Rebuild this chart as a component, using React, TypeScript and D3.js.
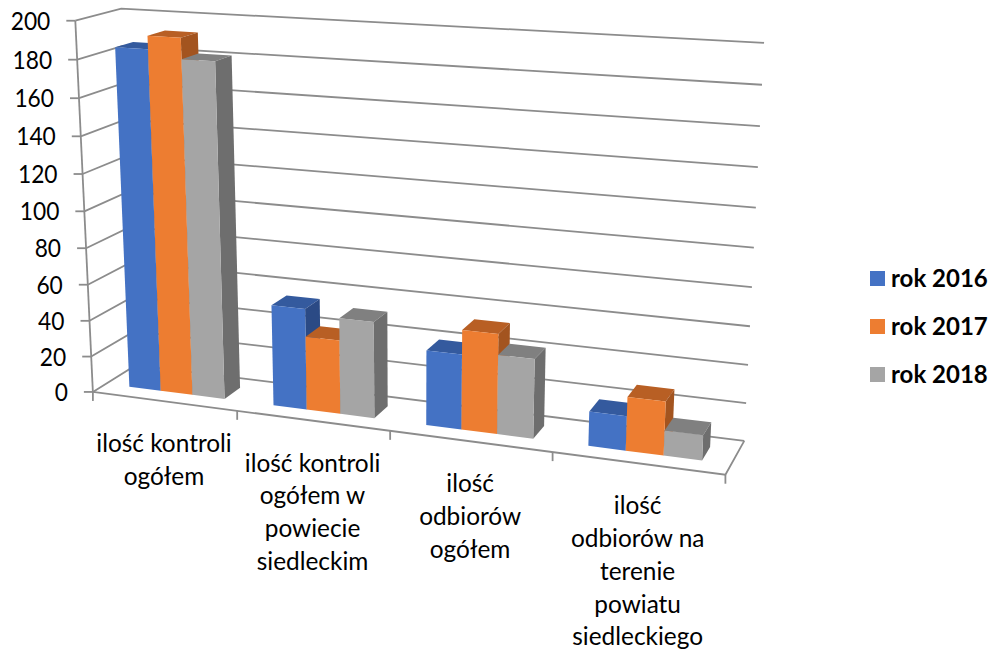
import React from 'react';
import * as d3 from 'd3';

const categories = ['kontrole', 'kontrole powiat', 'odbiory', 'odbiory powiat'];
const categoryLines = [
  ['ilość kontroli', 'ogółem'],
  ['ilość kontroli', 'ogółem w', 'powiecie', 'siedleckim'],
  ['ilość', 'odbiorów', 'ogółem'],
  ['ilość', 'odbiorów na', 'terenie', 'powiatu', 'siedleckiego'],
];
const seriesNames = ['rok 2016', 'rok 2017', 'rok 2018'];
const values2016 = [185, 55, 40, 18];
const values2017 = [192, 40, 53, 28];
const values2018 = [181, 52, 42, 13];
const seriesValues = [values2016, values2017, values2018];
const valueTicks = [0, 20, 40, 60, 80, 100, 120, 140, 160, 180, 200];

const frontColors = ['#4472C4', '#ED7D31', '#A5A5A5'];
const topColors = ['#345A9E', '#B85F24', '#808080'];
const sideColors = ['#2B4A85', '#A3541F', '#6E6E6E'];
const gridColor = '#8C8C8C';
const font = 'Lato, sans-serif';

// where the chart box sits on screen: [across, up, depth, x, y], used to fit the camera
const anchors = [
  [0, 0, 0, 93, 392],
  [0, 0.1, 0, 91, 356],
  [0, 0.2, 0, 90, 321],
  [0, 0.3, 0, 88, 284],
  [0, 0.4, 0, 86, 248],
  [0, 0.5, 0, 84, 211],
  [0, 0.6, 0, 83, 174],
  [0, 0.7, 0, 81, 136],
  [0, 0.8, 0, 79, 98],
  [0, 0.9, 0, 77, 60],
  [0, 1, 0, 75, 21],
  [0, 1, 1, 121, 9],
  [0.25, 0, 0, 237, 412],
  [0.5, 0, 0, 390, 431],
  [0.75, 0, 0, 553, 453],
  [1, 0, 0, 725, 474],
  [1, 1, 1, 764, 43],
  [1, 0.9, 1, 762, 85],
  [1, 0.8, 1, 760, 126],
  [1, 0.7, 1, 758, 167],
  [1, 0.6, 1, 756, 208],
  [1, 0.5, 1, 754, 247],
  [1, 0.4, 1, 752, 287],
  [1, 0.3, 1, 750, 326],
  [1, 0.2, 1, 748, 365],
  [1, 0.1, 1, 746, 403],
  [1, 0, 1, 744, 441],
];

// least squares fit of a 3x4 projection matrix (last entry 1)
function fitProjection(pts: number[][]) {
  const n = 11;
  const A = d3.range(n).map(() => new Array(n + 1).fill(0));
  const add = (row: number[], target: number) => {
    for (let i = 0; i < n; i++) {
      for (let j = 0; j < n; j++) A[i][j] += row[i] * row[j];
      A[i][n] += row[i] * target;
    }
  };
  pts.forEach(([u, v, d, px, py]) => {
    const x = px / 1000;
    const y = py / 1000;
    add([u, v, d, 1, 0, 0, 0, 0, -x * u, -x * v, -x * d], x);
    add([0, 0, 0, 0, u, v, d, 1, -y * u, -y * v, -y * d], y);
  });
  for (let c = 0; c < n; c++) {
    let best = c;
    for (let r = c + 1; r < n; r++) if (Math.abs(A[r][c]) > Math.abs(A[best][c])) best = r;
    [A[c], A[best]] = [A[best], A[c]];
    for (let r = 0; r < n; r++) {
      if (r === c) continue;
      const f = A[r][c] / A[c][c];
      for (let k = c; k <= n; k++) A[r][k] -= f * A[c][k];
    }
  }
  return A.map((row, i) => row[n] / row[i]);
}

const h = fitProjection(anchors);
const project = (u: number, v: number, d: number): [number, number] => {
  const w = h[8] * u + h[9] * v + h[10] * d + 1;
  return [
    (1000 * (h[0] * u + h[1] * v + h[2] * d + h[3])) / w,
    (1000 * (h[4] * u + h[5] * v + h[6] * d + h[7])) / w,
  ];
};

const xScale = d3.scaleBand().domain(categories).range([0, 1]);
const seriesScale = d3
  .scaleBand()
  .domain(seriesNames)
  .range([0, xScale.bandwidth()])
  .paddingInner(0)
  .paddingOuter(0.75);
const yScale = d3.scaleLinear().domain([0, 200]).range([0, 1]);
const depthScale = d3.scaleLinear().domain([0, 1]).range([0.3, 0.7]);

const line = d3.line();
const edge = (pts: [number, number, number][]) => line(pts.map(p => project(p[0], p[1], p[2]))) as string;
const face = (pts: [number, number, number][]) => edge(pts) + 'Z';

export default function App() {
  const legendY = d3.scalePoint().domain(seriesNames).range([278.5, 374.5]);

  return (
    <svg width={993} height={652} style={{ position: 'absolute', left: 0, top: 0 }} fontFamily={font}>
      <rect width={993} height={652} fill="#fff" />

      {/* walls */}
      <g fill="none" stroke={gridColor} strokeWidth={1.8}>
        {valueTicks.map(t => {
          const v = yScale(t);
          return <path key={t} d={edge([[0, v, 0], [0, v, 1], [1, v, 1]])} />;
        })}
        <path d={edge([[0, 0, 0], [0, 1, 0]])} />
        <path d={edge([[0, 0, 0], [1, 0, 0], [1, 0, 1]])} />
        {valueTicks.map(t => {
          const [x, y] = project(0, yScale(t), 0);
          return <line key={t} x1={x - 9} y1={y} x2={x} y2={y} />;
        })}
        {d3.range(5).map(i => {
          const [x, y] = project(i / 4, 0, 0);
          return <line key={i} x1={x} y1={y} x2={x} y2={y + 9} />;
        })}
      </g>

      {/* bars, left to right so the nearer faces cover the sides */}
      {categories.map((c, ci) =>
        seriesNames.map((s, si) => {
          const u0 = (xScale(c) as number) + (seriesScale(s) as number);
          const u1 = u0 + seriesScale.bandwidth();
          const v = yScale(seriesValues[si][ci]);
          const d0 = depthScale(0);
          const d1 = depthScale(1);
          return (
            <g key={c + s}>
              <path fill={topColors[si]} d={face([[u0, v, d0], [u1, v, d0], [u1, v, d1], [u0, v, d1]])} />
              <path fill={sideColors[si]} d={face([[u1, 0, d0], [u1, v, d0], [u1, v, d1], [u1, 0, d1]])} />
              <path fill={frontColors[si]} d={face([[u0, 0, d0], [u1, 0, d0], [u1, v, d0], [u0, v, d0]])} />
            </g>
          );
        })
      )}

      {/* value labels, squeezed a bit because Lato digits are wider than the original's */}
      <g fontSize={25} fill="#000" textAnchor="end">
        {valueTicks.map(t => {
          const [x, y] = project(0, yScale(t), 0);
          return (
            <text key={t} x={x - 25} y={y + 9} textLength={String(t).length * 13.2} lengthAdjust="spacingAndGlyphs">
              {t}
            </text>
          );
        })}
      </g>

      {/* category labels */}
      <g fontSize={24.4} fill="#000" textAnchor="middle">
        {categories.map((c, i) => {
          const [x, y] = project((xScale(c) as number) + xScale.bandwidth() / 2, 0, 0);
          return categoryLines[i].map((l, k) => (
            <text key={l} x={x} y={y + 51 + k * 32.8}>
              {l}
            </text>
          ));
        })}
      </g>

      {/* legend */}
      <g>
        {seriesNames.map((s, i) => (
          <g key={s}>
            <rect x={870} y={(legendY(s) as number) - 7.5} width={15} height={15} fill={frontColors[i]} />
            <text x={891} y={(legendY(s) as number) + 8} fontSize={24} fontWeight={700} fill="#000">
              {s}
            </text>
          </g>
        ))}
      </g>
    </svg>
  );
}
